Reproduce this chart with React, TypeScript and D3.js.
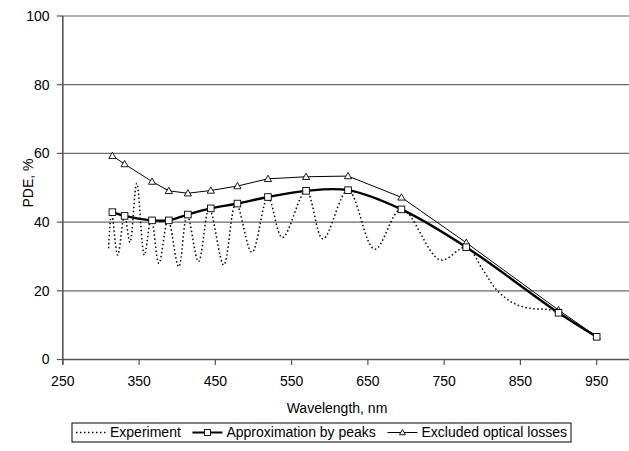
import React from "react";
import * as d3 from "d3";

// Photon detection efficiency vs. wavelength
const expWavelengths = [310, 314, 322, 331, 338, 347, 357, 366, 376, 388, 402, 413, 428, 442, 461, 477, 498, 519, 538, 569, 591, 624, 659, 694, 745, 779, 801, 819, 841, 862, 884, 900];
const expValues = [32.4, 42.5, 30.4, 42.0, 34.1, 51.3, 30.4, 41.1, 28.0, 40.6, 27.0, 42.1, 28.5, 44.0, 27.5, 45.5, 31.2, 47.2, 35.5, 49.1, 35.1, 49.3, 32.1, 43.8, 29.0, 32.7, 26.0, 20.2, 16.4, 14.9, 14.6, 13.9];

const peakWavelengths = [315, 331, 367, 389, 414, 444, 479, 519, 569, 624, 694, 779, 900, 950];
const approxValues = [42.9, 41.8, 40.5, 40.5, 42.2, 44.0, 45.4, 47.3, 49.1, 49.3, 43.7, 32.7, 13.6, 6.6];
const lossesValues = [59.3, 56.9, 51.8, 49.1, 48.4, 49.2, 50.5, 52.6, 53.2, 53.4, 47.2, 34.0, 14.4, 6.7];

const xTicks = [250, 350, 450, 550, 650, 750, 850, 950];
const yTicks = [0, 20, 40, 60, 80, 100];

const legendLabels = ["Experiment", "Approximation by peaks", "Excluded optical losses"];

const W = 629;
const H = 451;
const left = 62.8;
const right = 634.8;
const top = 16;
const bottom = 359.5;

const FONT_NAME = "'Liberation Sans', Arial, sans-serif";
const FS = 14;

function measure(text: string, size: number): number {
  if (typeof document === "undefined") return text.length * size * 0.5;
  const c = document.createElement("canvas").getContext("2d");
  if (!c) return text.length * size * 0.5;
  c.font = `${size}px ${FONT_NAME}`;
  return c.measureText(text).width;
}

export default function App() {
  const x = d3.scaleLinear().domain([250, 1000]).range([left, right]);
  const y = d3.scaleLinear().domain([0, 100]).range([bottom, top]);

  const expPts: [number, number][] = expWavelengths.map((w, i) => [x(w), y(expValues[i])]);
  const approxPts: [number, number][] = peakWavelengths.map((w, i) => [x(w), y(approxValues[i])]);
  const lossPts: [number, number][] = peakWavelengths.map((w, i) => [x(w), y(lossesValues[i])]);

  const smooth = d3.line().curve(d3.curveCatmullRom.alpha(0.5));
  const straight = d3.line();

  const tri = (cx: number, cy: number, s = 3.6) =>
    `M${cx},${cy - s}L${cx + s},${cy + s * 0.75}L${cx - s},${cy + s * 0.75}Z`;

  // legend layout: sample (30px) + label, spread to fill the box
  const legendX = 72;
  const legendW = 499;
  const legendTop = 423;
  const legendH = 19;
  const legendY = legendTop + legendH / 2;
  const sampleW = 30;
  const pad = 4;
  const widths = legendLabels.map((l) => measure(l, FS));
  const used = pad * 2 + legendLabels.length * (sampleW + 4) + d3.sum(widths);
  const gap = (legendW - used) / (legendLabels.length - 1);
  const items: { sx: number; tx: number }[] = [];
  let cur = legendX + pad;
  widths.forEach((w) => {
    items.push({ sx: cur, tx: cur + sampleW + 4 });
    cur += sampleW + 4 + w + gap;
  });

  return (
    <svg
      width={W}
      height={H}
      style={{ position: "absolute", left: 0, top: 0, background: "#fff" }}
      fontFamily={FONT_NAME}
    >
      <rect x={0} y={0} width={W} height={H} fill="#fff" />
      {/* horizontal gridlines */}
      {yTicks.filter((t) => t > 0).map((t) => (
        <line key={t} x1={left} x2={W} y1={y(t)} y2={y(t)} stroke="#6a6a6a" strokeWidth={1.2} />
      ))}
      {/* axes */}
      <line x1={left} x2={W} y1={bottom} y2={bottom} stroke="#555" strokeWidth={1.3} />
      <line x1={left} x2={left} y1={top} y2={bottom + 5} stroke="#555" strokeWidth={1.6} />
      {yTicks.map((t) => (
        <g key={t}>
          <line x1={left - 6} x2={left} y1={y(t)} y2={y(t)} stroke="#555" strokeWidth={1.2} />
          <text x={49.5} y={y(t)} dy="0.35em" textAnchor="end" fontSize={FS} fill="#000">
            {t}
          </text>
        </g>
      ))}
      {xTicks.map((t) => (
        <g key={t}>
          <line x1={x(t)} x2={x(t)} y1={bottom} y2={bottom + 5.5} stroke="#555" strokeWidth={1.2} />
          <text x={x(t)} y={386} textAnchor="middle" fontSize={FS} fill="#000">
            {t}
          </text>
        </g>
      ))}
      <text x={337} y={413} textAnchor="middle" fontSize={FS} fill="#000">
        Wavelength, nm
      </text>
      <text
        transform={`translate(32.7,183) rotate(-90)`}
        textAnchor="middle"
        fontSize={FS}
        fill="#000"
      >
        PDE, %
      </text>

      {/* series */}
      <path d={smooth(expPts) || ""} fill="none" stroke="#000" strokeWidth={1.5} strokeDasharray="1.5,2.5" />
      <path d={straight(lossPts) || ""} fill="none" stroke="#000" strokeWidth={1} />
      <path d={smooth(approxPts) || ""} fill="none" stroke="#000" strokeWidth={2.4} />
      {lossPts.map(([cx, cy], i) => (
        <path key={`t${i}`} d={tri(cx, cy)} fill="#fff" stroke="#000" strokeWidth={0.9} />
      ))}
      {approxPts.map(([cx, cy], i) => (
        <rect key={`s${i}`} x={cx - 3.3} y={cy - 3.3} width={6.6} height={6.6} fill="#fff" stroke="#000" strokeWidth={0.9} />
      ))}

      {/* legend */}
      <rect x={legendX} y={legendTop} width={legendW} height={legendH} fill="#fff" stroke="#000" strokeWidth={1} />
      <line x1={items[0].sx} x2={items[0].sx + sampleW} y1={legendY} y2={legendY} stroke="#000" strokeWidth={1.5} strokeDasharray="1.5,2.5" />
      <line x1={items[1].sx} x2={items[1].sx + sampleW} y1={legendY} y2={legendY} stroke="#000" strokeWidth={2} />
      <rect x={items[1].sx + sampleW / 2 - 3} y={legendY - 3} width={6} height={6} fill="#fff" stroke="#000" strokeWidth={0.9} />
      <line x1={items[2].sx} x2={items[2].sx + sampleW} y1={legendY} y2={legendY} stroke="#000" strokeWidth={1} />
      <path d={tri(items[2].sx + sampleW / 2, legendY, 3)} fill="#fff" stroke="#000" strokeWidth={0.9} />
      {legendLabels.map((l, i) => (
        <text key={l} x={items[i].tx} y={legendY} dy="0.35em" fontSize={FS} fill="#000">
          {l}
        </text>
      ))}
    </svg>
  );
}
